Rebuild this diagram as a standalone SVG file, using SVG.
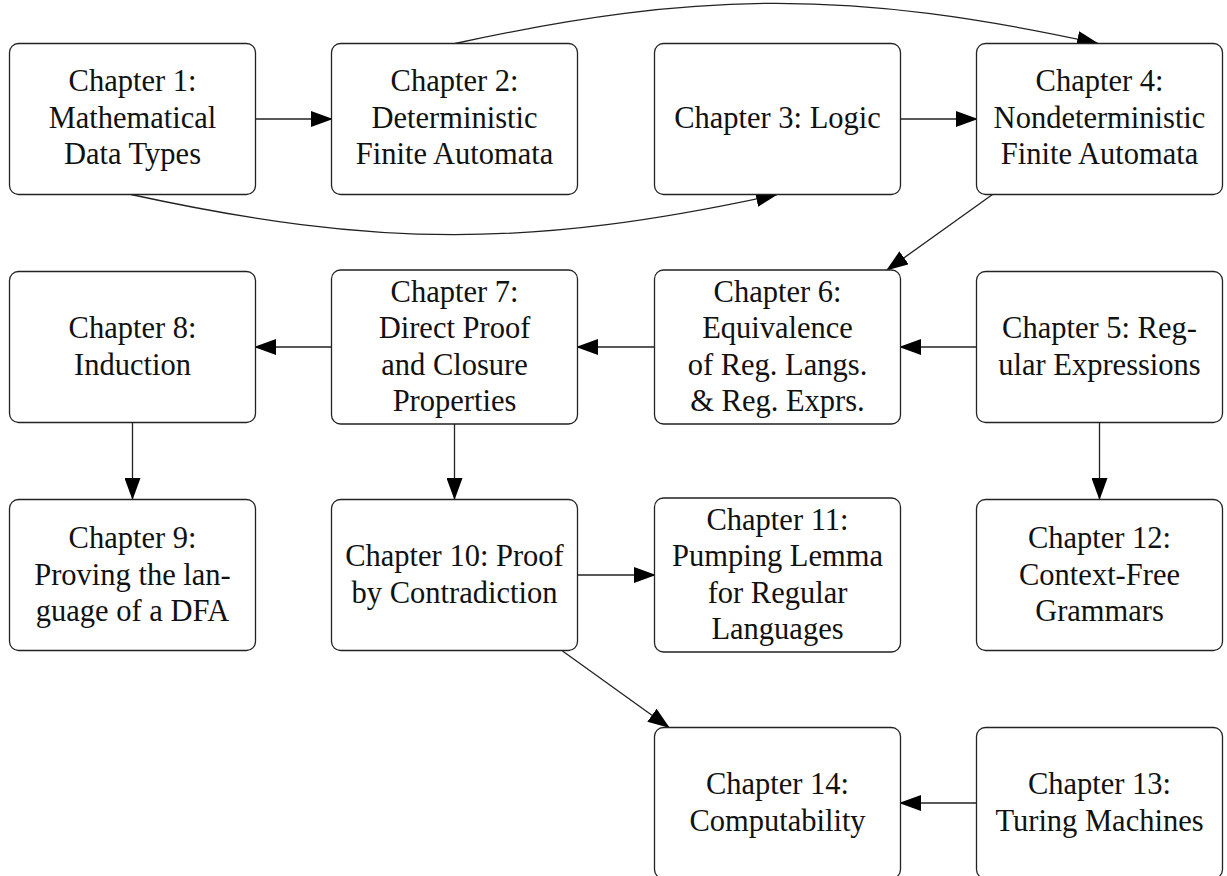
<svg xmlns="http://www.w3.org/2000/svg" width="1227" height="876" viewBox="0 0 1227 876">
  <defs>
    <marker id="arrow" viewBox="0 0 22 16" markerWidth="22" markerHeight="16" refX="21" refY="8" orient="auto" markerUnits="userSpaceOnUse">
      <path d="M0,0 L22,8 L0,16 Z" fill="#000"/>
    </marker>
    <style>
      .box { fill: #fff; stroke: #222; stroke-width: 1.3; }
      .lbl { font-family: "Liberation Serif", "Times New Roman", serif; font-size: 30.5px; fill: #111; text-anchor: middle; }
      .edge { fill: none; stroke: #222; stroke-width: 1.3; marker-end: url(#arrow); }
    </style>
  </defs>
  <rect width="1227" height="876" fill="#fff"/>

  <!-- connectors -->
  <g id="connectors">
    <line class="edge" x1="255" y1="119" x2="332" y2="119"/>
    <line class="edge" x1="900" y1="119" x2="977" y2="119"/>
    <path class="edge" d="M131,194.5 C377,248 531,248 777,194.5"/>
    <path class="edge" d="M455,43.5 C701,-10 852,-10 1098,43.5"/>
    <line class="edge" x1="992.5" y1="194.5" x2="887" y2="270"/>
    <line class="edge" x1="977" y1="347" x2="900" y2="347"/>
    <line class="edge" x1="655" y1="347" x2="577" y2="347"/>
    <line class="edge" x1="332" y1="347" x2="255" y2="347"/>
    <line class="edge" x1="132.5" y1="423" x2="132.5" y2="499"/>
    <line class="edge" x1="454.5" y1="424" x2="454.5" y2="499"/>
    <line class="edge" x1="1099.5" y1="423" x2="1099.5" y2="499"/>
    <line class="edge" x1="577" y1="575" x2="655" y2="575"/>
    <line class="edge" x1="562.5" y1="651" x2="669" y2="727.5"/>
    <line class="edge" x1="977" y1="803" x2="900" y2="803"/>
  </g>

  <!-- row 1 -->
  <g id="ch1">
    <rect class="box" x="9.5" y="43.5" width="246" height="151" rx="9"/>
    <text class="lbl" x="132.5" y="91">Chapter 1:</text>
    <text class="lbl" x="132.5" y="127.5">Mathematical</text>
    <text class="lbl" x="132.5" y="164">Data Types</text>
  </g>
  <g id="ch2">
    <rect class="box" x="331.5" y="43.5" width="246" height="151" rx="9"/>
    <text class="lbl" x="454.5" y="91">Chapter 2:</text>
    <text class="lbl" x="454.5" y="127.5">Deterministic</text>
    <text class="lbl" x="454.5" y="164">Finite Automata</text>
  </g>
  <g id="ch3">
    <rect class="box" x="654.5" y="43.5" width="246" height="151" rx="9"/>
    <text class="lbl" x="777.5" y="127.5">Chapter 3: Logic</text>
  </g>
  <g id="ch4">
    <rect class="box" x="976.5" y="43.5" width="246" height="151" rx="9"/>
    <text class="lbl" x="1099.5" y="91">Chapter 4:</text>
    <text class="lbl" x="1099.5" y="127.5">Nondeterministic</text>
    <text class="lbl" x="1099.5" y="164">Finite Automata</text>
  </g>

  <!-- row 2 -->
  <g id="ch8">
    <rect class="box" x="9.5" y="271.5" width="246" height="151" rx="9"/>
    <text class="lbl" x="132.5" y="338">Chapter 8:</text>
    <text class="lbl" x="132.5" y="374.5">Induction</text>
  </g>
  <g id="ch7">
    <rect class="box" x="331.5" y="270" width="246" height="154" rx="9"/>
    <text class="lbl" x="454.5" y="301.5">Chapter 7:</text>
    <text class="lbl" x="454.5" y="338">Direct Proof</text>
    <text class="lbl" x="454.5" y="374.5">and Closure</text>
    <text class="lbl" x="454.5" y="411">Properties</text>
  </g>
  <g id="ch6">
    <rect class="box" x="654.5" y="270" width="246" height="154" rx="9"/>
    <text class="lbl" x="777.5" y="301.5">Chapter 6:</text>
    <text class="lbl" x="777.5" y="338">Equivalence</text>
    <text class="lbl" x="777.5" y="374.5">of Reg. Langs.</text>
    <text class="lbl" x="777.5" y="411">&amp; Reg. Exprs.</text>
  </g>
  <g id="ch5">
    <rect class="box" x="976.5" y="271.5" width="246" height="151" rx="9"/>
    <text class="lbl" x="1099.5" y="338">Chapter 5: Reg-</text>
    <text class="lbl" x="1099.5" y="374.5">ular Expressions</text>
  </g>

  <!-- row 3 -->
  <g id="ch9">
    <rect class="box" x="9.5" y="499.5" width="246" height="151" rx="9"/>
    <text class="lbl" x="132.5" y="548">Chapter 9:</text>
    <text class="lbl" x="132.5" y="584.5">Proving the lan-</text>
    <text class="lbl" x="132.5" y="621">guage of a DFA</text>
  </g>
  <g id="ch10">
    <rect class="box" x="331.5" y="499.5" width="246" height="151" rx="9"/>
    <text class="lbl" x="454.5" y="566">Chapter 10: Proof</text>
    <text class="lbl" x="454.5" y="602.5">by Contradiction</text>
  </g>
  <g id="ch11">
    <rect class="box" x="654.5" y="498" width="246" height="154" rx="9"/>
    <text class="lbl" x="777.5" y="529.5">Chapter 11:</text>
    <text class="lbl" x="777.5" y="566">Pumping Lemma</text>
    <text class="lbl" x="777.5" y="602.5">for Regular</text>
    <text class="lbl" x="777.5" y="639">Languages</text>
  </g>
  <g id="ch12">
    <rect class="box" x="976.5" y="499.5" width="246" height="151" rx="9"/>
    <text class="lbl" x="1099.5" y="548">Chapter 12:</text>
    <text class="lbl" x="1099.5" y="584.5">Context-Free</text>
    <text class="lbl" x="1099.5" y="621">Grammars</text>
  </g>

  <!-- row 4 -->
  <g id="ch14">
    <rect class="box" x="654.5" y="727.5" width="246" height="151" rx="9"/>
    <text class="lbl" x="777.5" y="794">Chapter 14:</text>
    <text class="lbl" x="777.5" y="830.5">Computability</text>
  </g>
  <g id="ch13">
    <rect class="box" x="976.5" y="727.5" width="246" height="151" rx="9"/>
    <text class="lbl" x="1099.5" y="794">Chapter 13:</text>
    <text class="lbl" x="1099.5" y="830.5">Turing Machines</text>
  </g>
</svg>
